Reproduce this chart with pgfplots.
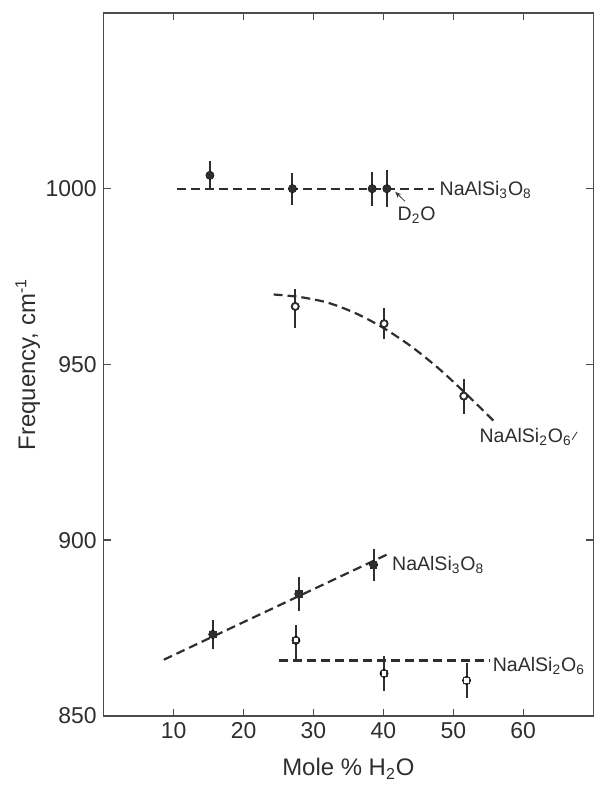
\documentclass[border=0pt]{standalone}
\usepackage{pgfplots}
\pgfplotsset{compat=1.18}
\usepackage{fontspec}
\setmainfont{Liberation Sans}
\usetikzlibrary{arrows.meta}
\definecolor{ink}{HTML}{2E2E2E}

\begin{document}
\begin{tikzpicture}
\begin{axis}[
  name=ax,
  scale only axis, width=245.5pt, height=352.6pt,
  xmin=0, xmax=70, ymin=850, ymax=1050,
  xtick={10,20,...,60}, ytick={850,900,950,1000},
  tick align=inside, major tick length=3.5pt,
  axis line style={draw=black!70, line width=0.6pt},
  tick style={draw=black!70, line width=0.7pt},
  ticklabel style={font=\fontsize{11.5}{13}\selectfont, text=ink},
  /pgf/number format/assume math mode=true,
  /pgf/number format/1000 sep={},
  xlabel={Mole \% H\textsubscript{2}O},
  ylabel={Frequency, cm\textsuperscript{-1}},
  label style={font=\fontsize{12}{14}\selectfont, text=ink},
  xlabel style={at={(axis description cs:0.5,-0.0851)}, anchor=base},
  ylabel style={at={(axis description cs:-0.155,0.5)}, anchor=center},
  clip=false,
  fit/.style={ink, line width=1.1pt, dash pattern=on 4.5pt off 2.5pt, forget plot},
  ebar/.style={only marks, mark=none, forget plot,
    error bars/.cd, y dir=both, y explicit,
    error bar style={line width=1pt, ink}, error mark=none},
]
% dashed guide lines
\addplot[fit] coordinates {(10.5,1000) (47.3,1000)};
\addplot[fit, smooth] coordinates {
  (24.3,969.9) (28,969.2) (32,967.6) (36,964.6) (40,960.4)
  (44,955.1) (48,948.7) (52,941.3) (56.1,933.3)};
\addplot[fit] coordinates {(8.6,866.0) (40.5,895.9)};
\addplot[fit] coordinates {(25.1,865.8) (55.1,865.8)};

% error bars
\addplot[ebar] coordinates {
  (15.2,1003.8) +- (0,4.0) (27.0,1000) +- (0,4.5)
  (38.4,1000) +- (0,4.8) (40.5,1000) +- (0,5.2)};
\addplot[ebar] coordinates {
  (27.4,966.5) += (0,5.1) -= (0,6.0)
  (40.1,961.6) +- (0,4.4) (51.5,941.0) +- (0,5.0)};
\addplot[ebar] coordinates {
  (15.6,873.2) +- (0,4.1) (27.9,884.7) +- (0,4.9) (38.6,893.0) +- (0,4.5)};
\addplot[ebar] coordinates {
  (27.5,871.5) += (0,4.5) -= (0,5.7)
  (40.1,862.1) +- (0,5.0) (51.9,860.1) +- (0,5.0)};

% markers
\addplot[only marks, mark=*, mark size=1.8pt, ink] coordinates {
  (15.2,1003.8) (27.0,1000) (38.4,1000) (40.5,1000)};
\addplot[only marks, mark=*, mark size=1.7pt,
  mark options={fill=white, draw=ink, line width=0.8pt}] coordinates {
  (27.4,966.5) (40.1,961.6) (51.5,941.0)};
\addplot[only marks, mark=square*, mark size=1.6pt, ink] coordinates {
  (15.6,873.2) (27.9,884.7) (38.6,893.0)};
\addplot[only marks, mark=square*, mark size=1.4pt,
  mark options={fill=white, draw=ink, line width=0.7pt}] coordinates {
  (27.5,871.5) (40.1,862.1) (51.9,860.1)};

% annotations
\begin{scope}[every node/.style={inner sep=0pt, text=ink, font=\fontsize{9.8}{11}\selectfont}]
\node[anchor=base west, yshift=-3.5pt] at (axis cs:48.0,1000) {NaAlSi\textsubscript{3}O\textsubscript{8}};
\node[anchor=base west] at (axis cs:42.0,991.0) {D\textsubscript{2}O};
\node[anchor=base west] at (axis cs:53.7,927.9) {NaAlSi\textsubscript{2}O\textsubscript{6}};
\node[anchor=base west] at (axis cs:41.2,891.3) {NaAlSi\textsubscript{3}O\textsubscript{8}};
\node[anchor=base west] at (axis cs:55.6,862.6) {NaAlSi\textsubscript{2}O\textsubscript{6}};
\end{scope}
\draw[ink, line width=0.4pt, -{Stealth[open, length=3pt, width=2.5pt]}] (axis cs:43.1,996.4) -- (axis cs:41.7,999.1);
\draw[ink, line width=0.4pt] (axis cs:67.0,928.6) -- (axis cs:67.7,930.8);

\coordinate (sw) at (rel axis cs:0,0);
\coordinate (ne) at (rel axis cs:1,1);
\end{axis}
\path (sw) ++(-52pt,-33.8pt) (ne) ++(0.5pt,6.5pt);
\end{tikzpicture}
\end{document}
